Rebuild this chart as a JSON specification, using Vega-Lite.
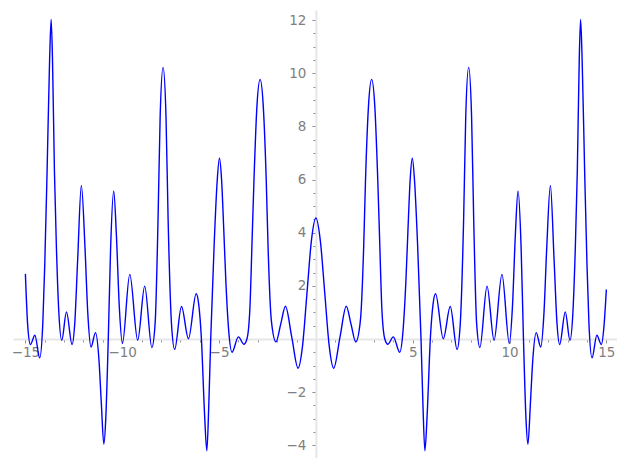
{
  "$schema": "https://vega.github.io/schema/vega-lite/v6.json",
  "autosize": {"type": "none"},
  "padding": {"left": 13, "top": 10, "right": 0, "bottom": 0},
  "width": 604,
  "height": 448,
  "background": "white",
  "view": {"stroke": null},
  "data": {"values": [
    {"x": -15, "y": 2.45}, {"x": -14.88, "y": 0.5}, {"x": -14.74, "y": -0.21}, {"x": -14.51, "y": 0.14}, {"x": -14.26, "y": -0.71},
    {"x": -14.1, "y": 0.6}, {"x": -14.0, "y": 2.8}, {"x": -13.88, "y": 6.3}, {"x": -13.75, "y": 10.5}, {"x": -13.67, "y": 12.02},
    {"x": -13.6, "y": 10.5}, {"x": -13.5, "y": 6.3}, {"x": -13.4, "y": 3.5}, {"x": -13.28, "y": 1.1}, {"x": -13.12, "y": -0.05},
    {"x": -12.88, "y": 1.02}, {"x": -12.59, "y": -0.21}, {"x": -12.45, "y": 0.6}, {"x": -12.3, "y": 3.0}, {"x": -12.11, "y": 5.78},
    {"x": -11.92, "y": 3.4}, {"x": -11.78, "y": 1.0}, {"x": -11.61, "y": -0.3}, {"x": -11.38, "y": 0.24}, {"x": -11.2, "y": -0.8},
    {"x": -11.08, "y": -2.4}, {"x": -10.95, "y": -3.96}, {"x": -10.85, "y": -3.0}, {"x": -10.72, "y": 0}, {"x": -10.6, "y": 3.4},
    {"x": -10.44, "y": 5.57}, {"x": -10.3, "y": 3.9}, {"x": -10.15, "y": 1.2}, {"x": -9.99, "y": -0.17}, {"x": -9.61, "y": 2.43},
    {"x": -9.2, "y": -0.05}, {"x": -8.84, "y": 1.99}, {"x": -8.47, "y": -0.32}, {"x": -8.3, "y": 0.6}, {"x": -8.15, "y": 4.5},
    {"x": -8.04, "y": 8.4}, {"x": -7.89, "y": 10.22}, {"x": -7.74, "y": 8.4}, {"x": -7.63, "y": 4.5}, {"x": -7.45, "y": 0.5},
    {"x": -7.29, "y": -0.39}, {"x": -6.94, "y": 1.22}, {"x": -6.58, "y": 0.01}, {"x": -6.18, "y": 1.7}, {"x": -6.05, "y": 1.3},
    {"x": -5.91, "y": 0}, {"x": -5.75, "y": -2.8}, {"x": -5.63, "y": -4.21}, {"x": -5.53, "y": -2.5}, {"x": -5.43, "y": 0},
    {"x": -5.25, "y": 3.6}, {"x": -5.1, "y": 5.9}, {"x": -4.98, "y": 6.8}, {"x": -4.87, "y": 6.0}, {"x": -4.75, "y": 4.0},
    {"x": -4.65, "y": 2.2}, {"x": -4.5, "y": 0.3}, {"x": -4.33, "y": -0.5}, {"x": -4.0, "y": 0.08}, {"x": -3.72, "y": -0.2},
    {"x": -3.56, "y": 0.0}, {"x": -3.41, "y": 1.1}, {"x": -3.29, "y": 3.8}, {"x": -3.2, "y": 5.9}, {"x": -3.04, "y": 8.8},
    {"x": -2.88, "y": 9.77}, {"x": -2.72, "y": 8.8}, {"x": -2.56, "y": 5.9}, {"x": -2.47, "y": 3.5}, {"x": -2.3, "y": 0.7},
    {"x": -2.06, "y": -0.11}, {"x": -1.815, "y": 0.56}, {"x": -1.57, "y": 1.23}, {"x": -1.245, "y": 0.07}, {"x": -0.92, "y": -1.1},
    {"x": -0.69, "y": -0.27}, {"x": -0.46, "y": 1.72}, {"x": -0.23, "y": 3.7},
    {"x": 0, "y": 4.55},
    {"x": 0.23, "y": 3.7}, {"x": 0.46, "y": 1.72}, {"x": 0.69, "y": -0.27}, {"x": 0.92, "y": -1.1}, {"x": 1.245, "y": 0.07},
    {"x": 1.57, "y": 1.23}, {"x": 1.815, "y": 0.56}, {"x": 2.06, "y": -0.11}, {"x": 2.3, "y": 0.7}, {"x": 2.47, "y": 3.5},
    {"x": 2.56, "y": 5.9}, {"x": 2.72, "y": 8.8}, {"x": 2.88, "y": 9.77}, {"x": 3.04, "y": 8.8}, {"x": 3.2, "y": 5.9},
    {"x": 3.29, "y": 3.8}, {"x": 3.41, "y": 1.1}, {"x": 3.56, "y": 0.0}, {"x": 3.72, "y": -0.2}, {"x": 4.0, "y": 0.08},
    {"x": 4.33, "y": -0.5}, {"x": 4.5, "y": 0.3}, {"x": 4.65, "y": 2.2}, {"x": 4.75, "y": 4.0}, {"x": 4.87, "y": 6.0},
    {"x": 4.98, "y": 6.8}, {"x": 5.1, "y": 5.9}, {"x": 5.25, "y": 3.6}, {"x": 5.43, "y": 0}, {"x": 5.53, "y": -2.5},
    {"x": 5.63, "y": -4.21}, {"x": 5.75, "y": -2.8}, {"x": 5.91, "y": 0}, {"x": 6.05, "y": 1.3}, {"x": 6.18, "y": 1.7},
    {"x": 6.58, "y": 0.01}, {"x": 6.94, "y": 1.22}, {"x": 7.29, "y": -0.39}, {"x": 7.45, "y": 0.5}, {"x": 7.63, "y": 4.5},
    {"x": 7.74, "y": 8.4}, {"x": 7.89, "y": 10.22}, {"x": 8.04, "y": 8.4}, {"x": 8.15, "y": 4.5}, {"x": 8.3, "y": 0.6},
    {"x": 8.47, "y": -0.32}, {"x": 8.84, "y": 1.99}, {"x": 9.2, "y": -0.05}, {"x": 9.61, "y": 2.43}, {"x": 9.99, "y": -0.17},
    {"x": 10.15, "y": 1.2}, {"x": 10.3, "y": 3.9}, {"x": 10.44, "y": 5.57}, {"x": 10.6, "y": 3.4}, {"x": 10.72, "y": 0},
    {"x": 10.85, "y": -3.0}, {"x": 10.95, "y": -3.96}, {"x": 11.08, "y": -2.4}, {"x": 11.2, "y": -0.8}, {"x": 11.38, "y": 0.24},
    {"x": 11.61, "y": -0.3}, {"x": 11.78, "y": 1.0}, {"x": 11.92, "y": 3.4}, {"x": 12.11, "y": 5.78}, {"x": 12.3, "y": 3.0},
    {"x": 12.45, "y": 0.6}, {"x": 12.59, "y": -0.21}, {"x": 12.88, "y": 1.02}, {"x": 13.12, "y": -0.05}, {"x": 13.28, "y": 1.1},
    {"x": 13.4, "y": 3.5}, {"x": 13.5, "y": 6.3}, {"x": 13.6, "y": 10.5}, {"x": 13.67, "y": 12.02}, {"x": 13.75, "y": 10.5},
    {"x": 13.88, "y": 6.3}, {"x": 14.0, "y": 2.8}, {"x": 14.1, "y": 0.6}, {"x": 14.26, "y": -0.71}, {"x": 14.51, "y": 0.14},
    {"x": 14.74, "y": -0.21}, {"x": 14.88, "y": 0.5}, {"x": 15, "y": 1.86}
  ]},
  "mark": {"type": "line", "color": "#0000ff", "strokeWidth": 1.4, "interpolate": "monotone", "clip": false},
  "encoding": {
    "x": {
      "field": "x", "type": "quantitative",
      "scale": {"domain": [-15.64, 15.55], "nice": false, "zero": false},
      "axis": {
        "title": null, "grid": false, "offset": -119.04, "format": ".0f",
        "values": [-15,-14,-13,-12,-11,-10,-9,-8,-7,-6,-5,-4,-3,-2,-1,1,2,3,4,5,6,7,8,9,10,11,12,13,14,15],
        "labelExpr": "datum.value % 5 == 0 ? datum.label : ''",
        "labelOverlap": false, "labelFlush": false,
        "domainColor": "#e6e6e6", "domainWidth": 2,
        "tickColor": "#909090", "tickWidth": 1,
        "tickSize": {"condition": {"test": "datum.value % 5 == 0", "value": 4}, "value": 3},
        "labelColor": "#808080", "labelFont": "DejaVu Sans", "labelFontSize": 13.5, "labelPadding": 3
      }
    },
    "y": {
      "field": "y", "type": "quantitative",
      "scale": {"domain": [-4.48, 12.38], "nice": false, "zero": false},
      "axis": {
        "title": null, "grid": false, "offset": -302.87, "format": ".0f",
        "values": [-4.5,-4,-3.5,-3,-2.5,-2,-1.5,-1,-0.5,0.5,1,1.5,2,2.5,3,3.5,4,4.5,5,5.5,6,6.5,7,7.5,8,8.5,9,9.5,10,10.5,11,11.5,12],
        "labelExpr": "datum.value % 2 == 0 ? datum.label : ''",
        "labelOverlap": false, "labelFlush": false,
        "domainColor": "#e6e6e6", "domainWidth": 2,
        "tickColor": "#909090", "tickWidth": 1,
        "tickSize": {"condition": {"test": "datum.value % 2 == 0", "value": 4}, "value": 3},
        "labelColor": "#808080", "labelFont": "DejaVu Sans", "labelFontSize": 13.5, "labelPadding": 6
      }
    }
  }
}
